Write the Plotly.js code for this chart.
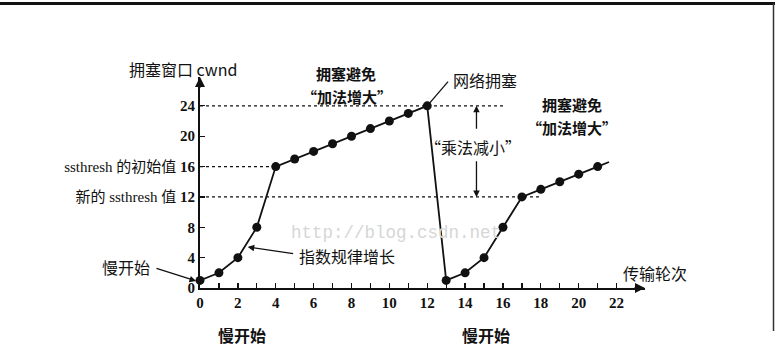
<!DOCTYPE html>
<html>
<head>
<meta charset="utf-8">
<script src="https://cdn.plot.ly/plotly-3.0.1.min.js"></script>
<style>html,body{margin:0;padding:0;background:#fff;}</style>
</head>
<body>
<div id="chart" style="width:775px;height:351px;"></div>
<script>
// Data
const rounds = [0,1,2,3,4,5,6,7,8,9,10,11,12,13,14,15,16,17,18,19,20,21];
const cwnd   = [1,2,4,8,16,17,18,19,20,21,22,23,24,1,2,4,8,12,13,14,15,16];
const tailX = [21, 21.6];
const tailY = [16, 16.6];
const xTickVals = [0,1,2,3,4,5,6,7,8,9,10,11,12,13,14,15,16,17,18,19,20,21,22];
const xTickText = ["0","","2","","4","","6","","8","","10","","12","","14","","16","","18","","20","","22"];
const yTickVals = [0,4,8,12,16,20,24];
const yTickText = ["<b>0</b>","<b>4</b>","<b>8</b>","新的 ssthresh 值 <b>12</b>","ssthresh 的初始值 <b>16</b>","<b>20</b>","<b>24</b>"];
const thresholdInit = 16;
const thresholdNew = 12;
const congestionPeak = 24;

const FONT = '"Liberation Serif", "Noto Sans CJK SC", serif';
const CJK = '"Noto Sans CJK SC", "Liberation Serif", sans-serif';

// plot frame (pixels) used only to place outside-of-range labels in paper units
const L = 200, W = 445, T = 77, H = 211;
const PX = p => (p - L) / W;
const PY = p => (T + H - p) / H;

const traces = [
  {x: rounds, y: cwnd, mode: 'lines+markers', type: 'scatter',
   line: {color: '#111', width: 1.8}, marker: {color: '#111', size: 9}, cliponaxis: false, hoverinfo: 'skip'},
  {x: tailX, y: tailY, mode: 'lines', type: 'scatter',
   line: {color: '#111', width: 1.8}, cliponaxis: false, hoverinfo: 'skip'}
];

const dot = {color: '#111', width: 1.3, dash: 'dot'};
const shapes = [
  {type: 'line', xref: 'x', yref: 'y', x0: 0, x1: 16.1, y0: congestionPeak, y1: congestionPeak, line: dot},
  {type: 'line', xref: 'x', yref: 'y', x0: 0, x1: 4, y0: thresholdInit, y1: thresholdInit, line: dot},
  {type: 'line', xref: 'x', yref: 'y', x0: 0, x1: 17.9, y0: thresholdNew, y1: thresholdNew, line: dot},
  {type: 'line', xref: 'x', yref: 'y', x0: 12, x1: 13.1, y0: 24, y1: 27.2, line: {color: '#111', width: 1.3}},
  // page border decorations
  {type: 'rect', xref: 'paper', yref: 'paper', x0: PX(0), x1: PX(775), y0: PY(5), y1: PY(2), fillcolor: '#111', line: {width: 0}},
  {type: 'line', xref: 'paper', yref: 'paper', x0: PX(773.5), x1: PX(773.5), y0: PY(3), y1: PY(331), line: {color: '#333', width: 1.5}}
];

const ann = [];
function ptxt(px, py, text, size, bold, color, family, yanchor) {
  ann.push({x: PX(px), y: PY(py), xref: 'paper', yref: 'paper', text: text, showarrow: false,
    xanchor: 'center', yanchor: yanchor || 'middle', borderpad: 0,
    font: {family: family || CJK, size: size, color: color || '#111', weight: bold ? 'bold' : 'normal'}});
}
function arrow(x, y, ax, ay, head) {
  ann.push({x: x, y: y, xref: 'x', yref: 'y', ax: ax, ay: ay, axref: 'x', ayref: 'y', text: '',
    showarrow: true, arrowhead: head, arrowsize: 1, arrowwidth: 1.3, arrowcolor: '#111'});
}
ptxt(183, 69, '拥塞窗口 cwnd', 16, false, '#111', CJK);
ptxt(655, 273, '传输轮次', 16, false);
ptxt(346, 85, '拥塞避免', 15, true, null, null, 'bottom');
ptxt(347, 85, '“加法增大”', 15, true, null, null, 'top');
ptxt(572, 116, '拥塞避免', 15, true, null, null, 'bottom');
ptxt(572, 116, '“加法增大”', 15, true, null, null, 'top');
ptxt(485, 80, '网络拥塞', 16, false);
ptxt(473, 147, '“乘法减小”', 16, false);
ptxt(347, 256, '指数规律增长', 16, false);
ptxt(126, 267, '慢开始', 16, false);
ptxt(242, 335, '慢开始', 16, true);
ptxt(486, 335, '慢开始', 16, true);
ptxt(396, 233, 'http://blog.csdn.net', 17.5, false, '#d6d6d6', '"Liberation Mono", monospace');

// vertical "乘法减小" arrows
arrow(14.6, 24, 14.6, 20.8, 2);
arrow(14.6, 12, 14.6, 16.9, 2);
// pointer arrow for 指数规律增长
arrow(2.52, 5.4, 5.0, 4.5, 2);
// pointer arrow for 慢开始 (left of plot area)
ann.push({x: PX(196), y: PY(281), xref: 'paper', yref: 'paper', ax: -41, ay: -13, text: '',
  showarrow: true, arrowhead: 2, arrowsize: 1, arrowwidth: 1.3, arrowcolor: '#111'});
// axis arrow heads
ann.push({x: 23.5, y: 0, xref: 'x', yref: 'y', ax: -12, ay: 0, text: '', showarrow: true, arrowhead: 2, arrowsize: 1, arrowwidth: 2, arrowcolor: '#111'});
ann.push({x: 0, y: 27.8, xref: 'x', yref: 'y', ax: 0, ay: 12, text: '', showarrow: true, arrowhead: 2, arrowsize: 1, arrowwidth: 2, arrowcolor: '#111'});

const layout = {
  width: 775, height: 351,
  margin: {l: L, r: 775 - L - W, t: T, b: 351 - T - H},
  paper_bgcolor: '#fff', plot_bgcolor: '#fff',
  showlegend: false,
  xaxis: {range: [0, 23.5], showgrid: false, zeroline: false, showline: true, linecolor: '#111', linewidth: 2,
    tickmode: 'array', tickvals: xTickVals, ticktext: xTickText, ticks: 'inside', ticklen: 5, tickwidth: 1.3, tickcolor: '#111',
    tickfont: {family: FONT, size: 15, color: '#111', weight: 'bold'}, fixedrange: true},
  yaxis: {range: [0, 27.8], showgrid: false, zeroline: false, showline: true, linecolor: '#111', linewidth: 2,
    tickmode: 'array', tickvals: yTickVals, ticktext: yTickText, ticks: 'inside', ticklen: 5, tickwidth: 1.3, tickcolor: '#111',
    tickfont: {family: FONT, size: 15, color: '#111'}, fixedrange: true},
  shapes: shapes,
  annotations: ann
};

Plotly.newPlot('chart', traces, layout, {displayModeBar: false, staticPlot: true});
</script>
</body>
</html>
